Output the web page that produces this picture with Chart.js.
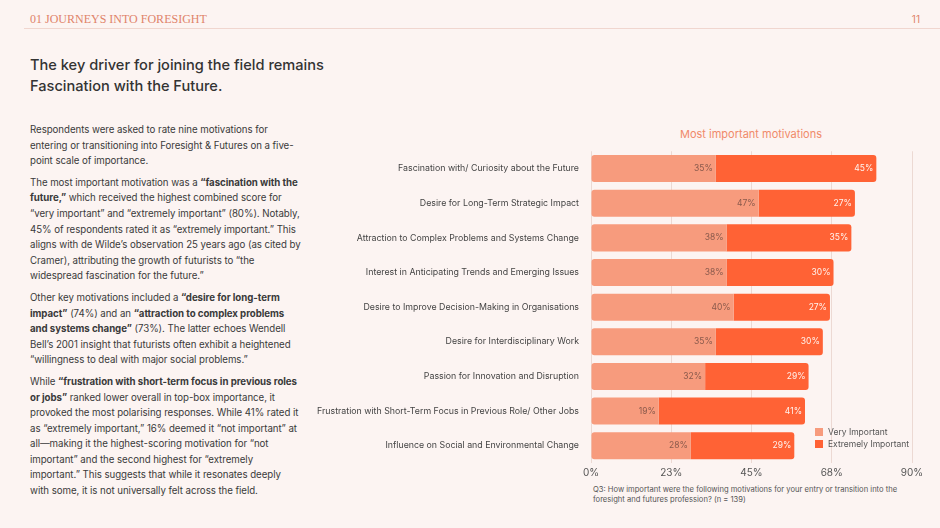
<!DOCTYPE html>
<html><head><meta charset="utf-8">
<script src="https://cdn.jsdelivr.net/npm/chart.js@4"></script>
<style>
html,body{margin:0;padding:0;background:#fcf4f2;width:940px;height:528px;overflow:hidden;font-family:Inter,"Noto Sans",sans-serif;color:#3a3a3a}
#hdr{position:absolute;left:30px;top:12px;font-family:"Liberation Serif",serif;font-size:12px;color:#e0836a;letter-spacing:0}
#pg{position:absolute;right:20px;top:13px;font-size:10px;color:#e0836a}
#line{position:absolute;left:24px;right:0;top:28px;border-top:1px solid #f0d6cf}
#title{position:absolute;left:30px;top:55px;font-size:14.6px;font-weight:500;line-height:21px;color:#333}
#body{position:absolute;left:30px;top:122px;width:272px;font-size:9.7px;line-height:15.6px;color:#3a3a3a;letter-spacing:-0.05px}
#body p{margin:0 0 6px 0}
#ctitle{position:absolute;left:680px;top:127px;font-size:11px;color:#f08a6a}
#chartbox{position:absolute;left:310px;top:142px;width:620px;height:341px}
#note{position:absolute;left:593px;top:485px;width:330px;font-size:7.6px;line-height:10px;color:#555}
#leg{position:absolute;left:815px;top:427px;font-size:8.5px;color:#555;line-height:11.5px}
#leg span{display:inline-block;width:8px;height:8px;margin-right:5px;vertical-align:-1px}
</style></head><body>
<div id="hdr">01 JOURNEYS INTO FORESIGHT</div><div id="pg">11</div><div id="line"></div>
<div id="title">The key driver for joining the field remains<br>Fascination with the Future.</div>
<div id="body">
<p>Respondents were asked to rate nine motivations for entering or transitioning into Foresight &amp; Futures on a five-point scale of importance.</p>
<p>The most important motivation was a <b>“fascination with the future,”</b> which received the highest combined score for “very important” and “extremely important” (80%). Notably, 45% of respondents rated it as “extremely important.” This aligns with de Wilde’s observation 25 years ago (as cited by Cramer), attributing the growth of futurists to “the widespread fascination for the future.”</p>
<p>Other key motivations included a <b>“desire for long-term impact”</b> (74%) and an <b>“attraction to complex problems and systems change”</b> (73%). The latter echoes Wendell Bell’s 2001 insight that futurists often exhibit a heightened “willingness to deal with major social problems.”</p>
<p>While <b>“frustration with short-term focus in previous roles or jobs”</b> ranked lower overall in top-box importance, it provoked the most polarising responses. While 41% rated it as “extremely important,” 16% deemed it “not important” at all—making it the highest-scoring motivation for “not important” and the second highest for “extremely important.” This suggests that while it resonates deeply with some, it is not universally felt across the field.</p>
</div>
<div id="ctitle">Most important motivations</div>
<div id="chartbox"><canvas id="c"></canvas></div>
<div id="leg"><div><span style="background:#f79b7d"></span>Very Important</div><div><span style="background:#ff6235"></span>Extremely Important</div></div>
<div id="note">Q3: How important were the following motivations for your entry or transition into the foresight and futures profession? (n = 139)</div>
<script>
const categories=["Fascination with/ Curiosity about the Future","Desire for Long-Term Strategic Impact","Attraction to Complex Problems and Systems Change","Interest in Anticipating Trends and Emerging Issues","Desire to Improve Decision-Making in Organisations","Desire for Interdisciplinary Work","Passion for Innovation and Disruption","Frustration with Short-Term Focus in Previous Role/ Other Jobs","Influence on Social and Environmental Change"];
const veryImportant=[35,47,38,38,40,35,32,19,28];
const extremelyImportant=[45,27,35,30,27,30,29,41,29];
const tickValues=[0,22.5,45,67.5,90];
const tickLabels=["0%","23%","45%","68%","90%"];
const labelPlugin={id:'lbl',afterDatasetsDraw(ch){const ctx=ch.ctx;ctx.save();ctx.font='8.5px Inter, sans-serif';ctx.textAlign='right';ctx.textBaseline='middle';
ch.data.datasets.forEach((ds,i)=>{ch.getDatasetMeta(i).data.forEach((el,j)=>{ctx.fillStyle=i===0?'#8a5a4c':'#fff3ee';ctx.fillText(ds.data[j]+'%',el.x-3,el.y);});});ctx.restore();}};
new Chart(document.getElementById('c'),{type:'bar',
data:{labels:categories,datasets:[
{label:'Very Important',data:veryImportant,backgroundColor:'#f79b7d',borderRadius:{topLeft:3,bottomLeft:3},borderSkipped:false,barPercentage:0.78,categoryPercentage:1},
{label:'Extremely Important',data:extremelyImportant,backgroundColor:'#ff6235',borderRadius:{topRight:3,bottomRight:3},borderSkipped:false,barPercentage:0.78,categoryPercentage:1}]},
options:{indexAxis:'y',responsive:true,maintainAspectRatio:false,animation:false,
layout:{padding:{top:0,right:18,bottom:0,left:0}},
plugins:{legend:{display:false},tooltip:{enabled:false}},
scales:{
x:{stacked:true,min:0,max:90,afterBuildTicks(a){a.ticks=tickValues.map(v=>({value:v}));},
ticks:{callback:(v,i)=>tickLabels[i],color:'#555',font:{size:10,family:'Inter'},padding:4},
grid:{color:'#ecd9d3',drawTicks:false},border:{display:false}},
y:{stacked:true,afterFit(a){a.width=281;},ticks:{color:'#444',font:{size:8.8,family:'Inter'},padding:4},grid:{display:false},border:{display:false}}}},
plugins:[labelPlugin]});
</script>
</body></html>
